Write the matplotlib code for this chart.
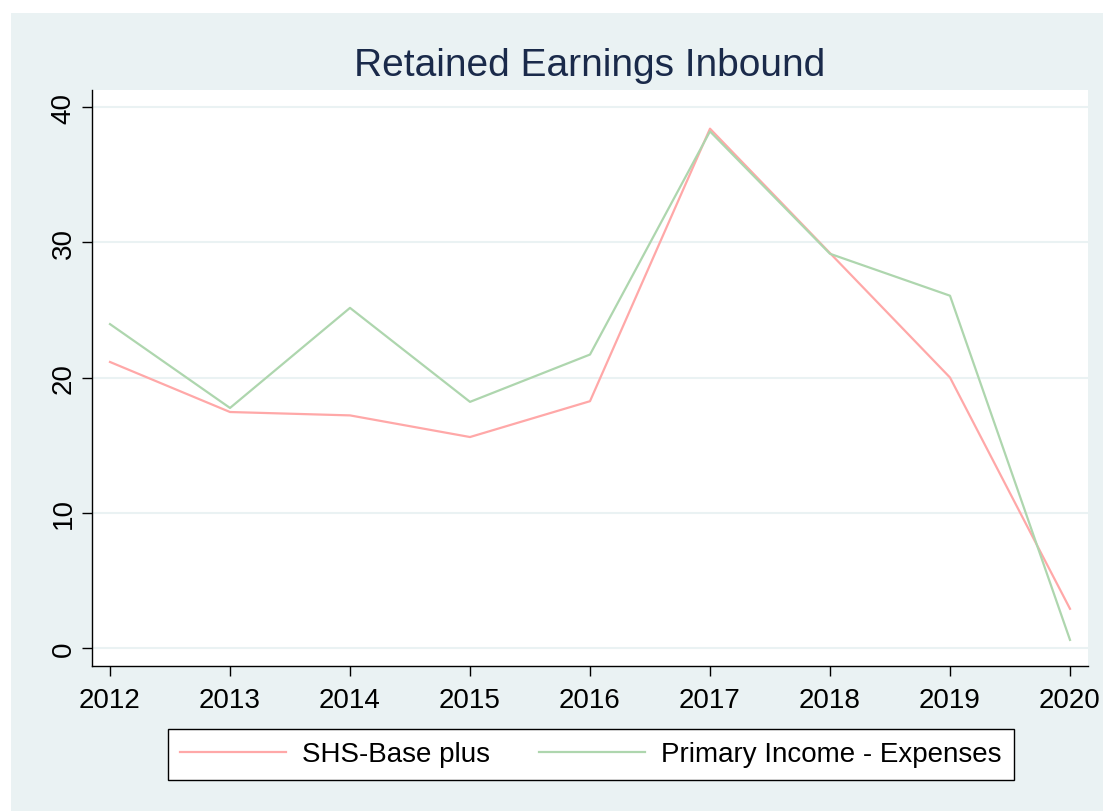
import matplotlib
matplotlib.use("Agg")
from matplotlib import pyplot as plt
from matplotlib.patches import Rectangle

years = [2012, 2013, 2014, 2015, 2016, 2017, 2018, 2019, 2020]
shs_base = [21.15, 17.45, 17.2, 15.6, 18.25, 38.4, 29.2, 20.0, 2.9]
primary_income = [23.95, 17.75, 25.15, 18.2, 21.7, 38.2, 29.15, 26.05, 0.6]
labels = ["SHS-Base plus", "Primary Income - Expenses"]

panel = "#eaf2f3"
plt.rcParams["font.family"] = ["Liberation Sans", "DejaVu Sans"]

fig = plt.figure(figsize=(11.03, 8.12), dpi=100)
fig.patch.set_facecolor("white")
fig.patches.append(Rectangle((11 / 1103, 0), 1, 1 - 14 / 812, transform=fig.transFigure,
                             facecolor=panel, edgecolor="none", zorder=-10))

ax = fig.add_axes([92 / 1103, 1 - 667 / 812, 996 / 1103, 576 / 812])
ax.set_facecolor("white")
ax.plot(years, shs_base, color="#ffa8a8", lw=1.6, label=labels[0])
ax.plot(years, primary_income, color="#aed6ae", lw=1.6, label=labels[1])

ax.set_xlim(2011.85, 2020.15)
ax.set_ylim(-1.33, 41.26)
ax.set_xticks(years)
ax.set_yticks([0, 10, 20, 30, 40])
ax.grid(axis="y", color=panel, lw=1.5)
ax.set_axisbelow(True)
for s in ["top", "right"]:
    ax.spines[s].set_visible(False)
for s in ["left", "bottom"]:
    ax.spines[s].set_color("black")
    ax.spines[s].set_linewidth(1)
ax.tick_params(direction="out", length=7, width=1, colors="black", labelsize=20)
ax.tick_params(axis="x", pad=8)
ax.tick_params(axis="y", pad=4)
plt.setp(ax.get_yticklabels(), rotation=90, va="center")

fig.text(590 / 1103, 1 - 66 / 812, "Retained Earnings Inbound", ha="center", va="center",
         fontsize=28, color="#1a2a4a")

leg = ax.legend(loc="center", bbox_to_anchor=(591 / 1103, 1 - 755.5 / 812),
                bbox_transform=fig.transFigure, ncol=2, fontsize=20, frameon=True,
                fancybox=False, edgecolor="black", framealpha=1, handlelength=3.8,
                columnspacing=1.75, borderpad=0.45, handletextpad=0.6, borderaxespad=0)
leg.get_frame().set_linewidth(1)

fig.savefig("out.png", dpi=100)
